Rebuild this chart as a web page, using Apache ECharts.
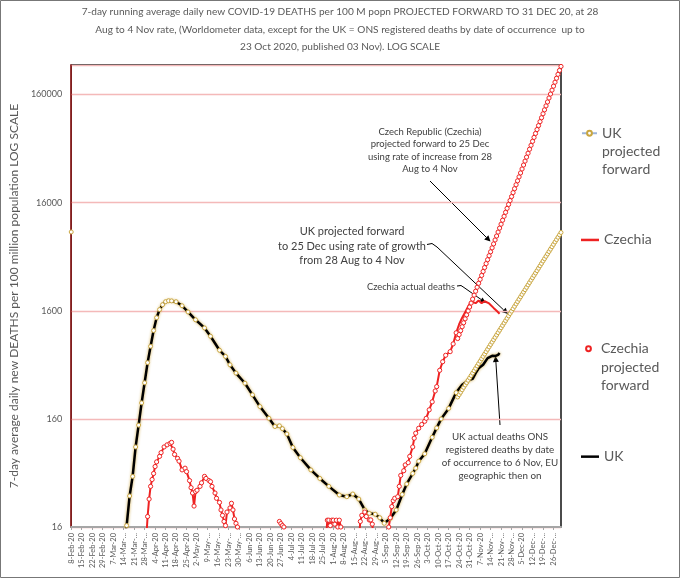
<!DOCTYPE html>
<html>
<head>
<meta charset="utf-8">
<script src="https://cdn.jsdelivr.net/npm/echarts@6/dist/echarts.min.js"></script>
<style>
  html, body { margin: 0; padding: 0; background: #fff; }
  #main { width: 680px; height: 578px; }
</style>
</head>
<body>
<div id="main"></div>
<script>
// y axis unit: grid lines sit at 16 x powers of ten
var UNIT = 16;
var firstDay = Date.UTC(2020, 1, 8);
var lastDay = Date.UTC(2020, 11, 31);

// weekly tick labels, as printed (Excel cut the long ones)
var weekLabels = [
  '8-Feb-20', '15-Feb-20', '22-Feb-20', '29-Feb-20', '7-Mar-20', '14-Mar-...', '21-Mar-...',
  '28-Mar-...', '4-Apr-20', '11-Apr-20', '18-Apr-20', '25-Apr-20', '2-May-20', '9-May-...',
  '16-May-...', '23-May-...', '30-May-...', '6-Jun-20', '13-Jun-20', '20-Jun-20', '27-Jun-20',
  '4-Jul-20', '11-Jul-20', '18-Jul-20', '25-Jul-20', '1-Aug-20', '8-Aug-20', '15-Aug-...',
  '22-Aug-...', '29-Aug-...', '5-Sep-20', '12-Sep-20', '19-Sep-20', '26-Sep-20', '3-Oct-20',
  '10-Oct-20', '17-Oct-20', '24-Oct-20', '31-Oct-20', '7-Nov-20', '14-Nov-...', '21-Nov-...',
  '28-Nov-...', '5-Dec-20', '12-Dec-...', '19-Dec-...', '26-Dec-...'
];

// deaths per 100M, 7-day average
var ukActual = [
  ['2020-03-13', 10], ['2020-03-16', 16.5], ['2020-03-18', 31], ['2020-03-20', 47],
  ['2020-03-22', 88], ['2020-03-24', 140], ['2020-03-26', 225], ['2020-03-28', 345],
  ['2020-03-30', 530], ['2020-04-01', 750], ['2020-04-03', 1050], ['2020-04-05', 1380],
  ['2020-04-07', 1640], ['2020-04-09', 1820], ['2020-04-11', 1940], ['2020-04-13', 1980],
  ['2020-04-15', 1975], ['2020-04-18', 1940], ['2020-04-22', 1780], ['2020-04-26', 1560],
  ['2020-05-01', 1320], ['2020-05-07', 1110], ['2020-05-11', 930], ['2020-05-17', 690],
  ['2020-05-21', 605], ['2020-05-24', 506], ['2020-05-28', 424], ['2020-06-03', 342],
  ['2020-06-08', 267], ['2020-06-13', 208], ['2020-06-19', 162], ['2020-06-23', 136],
  ['2020-06-26', 138], ['2020-06-28', 130], ['2020-07-01', 116], ['2020-07-05', 87],
  ['2020-07-10', 70], ['2020-07-17', 54], ['2020-07-23', 45], ['2020-07-29', 38],
  ['2020-08-05', 31.6], ['2020-08-10', 30.5], ['2020-08-14', 32.3], ['2020-08-18', 29],
  ['2020-08-22', 23], ['2020-08-25', 21.4], ['2020-08-29', 21], ['2020-09-01', 19.5],
  ['2020-09-04', 17.3], ['2020-09-08', 19.2], ['2020-09-12', 23], ['2020-09-16', 32],
  ['2020-09-19', 40], ['2020-09-23', 50], ['2020-09-25', 56], ['2020-09-27', 65],
  ['2020-10-01', 76], ['2020-10-06', 108], ['2020-10-09', 132], ['2020-10-12', 160],
  ['2020-10-17', 200], ['2020-10-22', 280], ['2020-10-26', 330], ['2020-10-28', 345],
  ['2020-10-31', 367], ['2020-11-02', 375], ['2020-11-04', 424], ['2020-11-06', 470],
  ['2020-11-09', 506], ['2020-11-12', 584], ['2020-11-15', 613], ['2020-11-17', 610],
  ['2020-11-19', 626], ['2020-11-20', 650]
];

// '-' = no value (line breaks)
var czechiaActual = [
  ['2020-03-29', 12], ['2020-03-30', 20], ['2020-03-31', 29], ['2020-04-01', 38],
  ['2020-04-02', 44], ['2020-04-03', 50], ['2020-04-04', 58], ['2020-04-05', 64],
  ['2020-04-07', 72], ['2020-04-08', 78], ['2020-04-10', 88], ['2020-04-12', 92],
  ['2020-04-14', 95], ['2020-04-15', 97], ['2020-04-16', 84], ['2020-04-17', 75],
  ['2020-04-19', 69], ['2020-04-20', 65], ['2020-04-22', 54], ['2020-04-24', 56],
  ['2020-04-25', 52], ['2020-04-27', 43], ['2020-04-28', 37], ['2020-04-29', 33],
  ['2020-04-30', 25], ['2020-05-01', 34], ['2020-05-02', 35], ['2020-05-04', 38],
  ['2020-05-05', 41], ['2020-05-07', 47], ['2020-05-08', 45], ['2020-05-10', 43],
  ['2020-05-11', 42], ['2020-05-12', 38], ['2020-05-14', 33], ['2020-05-15', 29.5],
  ['2020-05-17', 27], ['2020-05-18', 23], ['2020-05-19', 20.5], ['2020-05-20', 18],
  ['2020-05-21', 16.5], ['2020-05-22', 22], ['2020-05-24', 24], ['2020-05-25', 26.5],
  ['2020-05-26', 23], ['2020-05-27', 19], ['2020-05-28', 17.3], ['2020-05-29', 16],
  ['2020-05-30', 12], ['2020-05-31', '-'],
  ['2020-06-26', 18], ['2020-06-27', 17.2], ['2020-06-28', 16.5], ['2020-06-29', 16],
  ['2020-06-30', 12], ['2020-07-01', '-'],
  ['2020-07-27', 12], ['2020-07-28', 18.5], ['2020-07-29', 18.5], ['2020-07-30', 16.5],
  ['2020-07-31', 18.5], ['2020-08-01', 18.5], ['2020-08-02', 17], ['2020-08-03', 18.5],
  ['2020-08-04', 16], ['2020-08-05', 18.5], ['2020-08-06', 16], ['2020-08-07', 12],
  ['2020-08-08', '-'],
  ['2020-08-18', 12], ['2020-08-19', 18], ['2020-08-20', 20.5], ['2020-08-22', 22],
  ['2020-08-23', 20], ['2020-08-25', 18.6], ['2020-08-26', 18.6], ['2020-08-27', 17],
  ['2020-08-28', 12], ['2020-08-29', '-'],
  ['2020-09-06', 12], ['2020-09-07', 16], ['2020-09-08', 19.5], ['2020-09-09', 24.7],
  ['2020-09-10', 28], ['2020-09-11', 29.5], ['2020-09-13', 30.5], ['2020-09-14', 38],
  ['2020-09-15', 48], ['2020-09-17', 53], ['2020-09-18', 60], ['2020-09-20', 63],
  ['2020-09-21', 72], ['2020-09-23', 88], ['2020-09-24', 106], ['2020-09-25', 118],
  ['2020-09-27', 131], ['2020-09-29', 142], ['2020-10-01', 152], ['2020-10-02', 162],
  ['2020-10-04', 194], ['2020-10-06', 230], ['2020-10-08', 290], ['2020-10-09', 318],
  ['2020-10-11', 450], ['2020-10-13', 540], ['2020-10-15', 620], ['2020-10-18', 670],
  ['2020-10-20', 790], ['2020-10-22', 1000], ['2020-10-24', 1200], ['2020-10-26', 1380],
  ['2020-10-28', 1550], ['2020-10-30', 1750], ['2020-11-01', 1950], ['2020-11-04', 1880],
  ['2020-11-06', 1990], ['2020-11-08', 1880], ['2020-11-10', 1960], ['2020-11-11', 1950],
  ['2020-11-13', 1870], ['2020-11-16', 1700], ['2020-11-18', 1600], ['2020-11-20', 1500]
];

// daily projected values from 23 Oct to 31 Dec
var projStart = '2020-10-23';
var ukProjected = [
  255, 268, 282, 297, 313, 329, 346, 364, 383, 403, 424, 446, 469, 494, 519, 546, 575, 605,
  636, 669, 704, 741, 780, 820, 863, 908, 955, 1005, 1057, 1112, 1170, 1231, 1295, 1363,
  1434, 1508, 1587, 1669, 1756, 1848, 1944, 2045, 2152, 2264, 2382, 2506, 2636, 2774, 2918,
  3070, 3230, 3398, 3575, 3761, 3957, 4163, 4380, 4608, 4848, 5101, 5366, 5646, 5940, 6249,
  6575, 6917, 7277, 7656, 8055, 8475
];
var czechiaProjected = [
  886, 963, 1047, 1139, 1239, 1348, 1466, 1594, 1734, 1886, 2051, 2231, 2426, 2639, 2870,
  3121, 3395, 3692, 4016, 4367, 4750, 5166, 5619, 6111, 6646, 7228, 7861, 8550, 9299, 10110,
  11000, 11960, 13010, 14150, 15390, 16740, 18200, 19800, 21540, 23420, 25470, 27700, 30130,
  32770, 35640, 38760, 42160, 45850, 49870, 54240, 58990, 64160, 69780, 75890, 82540, 89770,
  97630, 106200, 115500, 125600, 136600, 148600, 161600, 175700, 191100, 207900, 226100,
  245900, 267400, 290900
];
// odd single point the original shows on the y axis
var ukStray = ['2020-02-08', 8570];

var days = [];
for (var t = firstDay; t <= lastDay; t += 86400000) {
  days.push(new Date(t).toISOString().slice(0, 10));
}

function scaled(pairs) {
  return pairs.map(function (p) { return [p[0], p[1] === '-' ? '-' : p[1] / UNIT]; });
}
function fromStart(start, values) {
  var i0 = days.indexOf(start);
  return values.map(function (v, k) { return [days[i0 + k], v / UNIT]; });
}
function before(pairs, day) {
  return pairs.filter(function (p) { return p[0] < day; });
}

var gold = '#c9a640', red = '#ee2222', grey = '#595959';
var font = 'Lato';

var ukProjData = scaled([ukStray, [days[1], '-']])
  .concat(scaled(before(ukActual, projStart)))
  .concat(fromStart(projStart, ukProjected));
var czProjData = scaled(before(czechiaActual, projStart))
  .concat(fromStart(projStart, czechiaProjected));

// multi-line names get two blank lines on top so the first line sits by the icon
function legendBox(name, top, multi) {
  var box = {
    data: [name],
    orient: 'vertical',
    left: 581,
    top: top,
    padding: 0,
    itemWidth: 15,
    itemHeight: 6,
    formatter: multi ? function (n) { return '\n\n' + n.replace(/ /g, '\n'); } : '{name}',
    textStyle: { color: grey, fontSize: 14, fontFamily: font, lineHeight: 18.3 }
  };
  if (!multi) {
    box.icon = 'rect';
    box.itemWidth = 18;
    box.itemHeight = 2.5;
  }
  return box;
}

function arrow(points, head) {
  return [
    { type: 'polyline', shape: { points: points }, style: { stroke: '#000', lineWidth: 1, fill: null } },
    { type: 'polygon', shape: { points: head }, style: { fill: '#000' } }
  ];
}

function note(x, y, text, size, lh, align) {
  return {
    type: 'text', x: x, y: y,
    style: {
      text: text, fill: '#404040', fontSize: size, lineHeight: lh, fontFamily: font,
      align: align || 'center', verticalAlign: 'top'
    }
  };
}

var myChart = echarts.init(document.getElementById('main'));
var option = {
  animation: false,
  title: {
    text: '7-day running average daily new COVID-19 DEATHS per 100 M popn PROJECTED FORWARD TO 31 DEC 20, at 28\n' +
      'Aug to 4 Nov rate, (Worldometer data, except for the UK = ONS registered deaths by date of occurrence  up to\n' +
      '23 Oct 2020, published 03 Nov). LOG SCALE',
    left: 'center',
    top: 3,
    padding: 0,
    textStyle: { color: grey, fontSize: 10.1, fontWeight: 'normal', fontFamily: font, lineHeight: 17.5 }
  },
  legend: [
    legendBox('UK projected forward', 87.5, true),
    legendBox('Czechia', 230.8, false),
    legendBox('Czechia projected forward', 303, true),
    legendBox('UK', 447.5, false)
  ],
  grid: {
    left: 51, right: 119, top: 65, bottom: 51,
    show: true, borderColor: '#111', borderWidth: 1.5
  },
  xAxis: {
    type: 'category',
    data: days,
    boundaryGap: false,
    axisLine: { lineStyle: { color: '#a6a6a6', width: 2 } },
    axisTick: { show: true, interval: 6, length: 3, lineStyle: { color: '#a6a6a6' } },
    axisLabel: {
      interval: 6,
      rotate: 90,
      margin: 6,
      color: grey,
      fontSize: 7.5,
      fontFamily: font,
      formatter: function (val, idx) { return weekLabels[idx / 7]; }
    },
    splitLine: { show: false }
  },
  yAxis: {
    type: 'log',
    logBase: 10,
    min: 1,
    max: 300000 / UNIT,
    name: '7-day average daily new DEATHS per 100 million population LOG SCALE',
    nameLocation: 'middle',
    nameRotate: 90,
    nameGap: 35,
    nameTextStyle: { color: grey, fontSize: 12, fontFamily: font },
    axisLine: { show: true, lineStyle: { color: '#a02020', width: 1.5 } },
    axisTick: { show: false },
    axisLabel: {
      color: grey, fontSize: 9, fontFamily: font, margin: 9, showMaxLabel: false,
      formatter: function (v) { return String(Math.round(v * UNIT)); }
    },
    splitLine: { lineStyle: { color: '#f4b9b9', width: 1.3 } }
  },
  series: [
    {
      name: 'UK projected forward',
      type: 'line',
      data: ukProjData,
      symbol: 'circle',
      symbolSize: 4,
      showAllSymbol: true,
      itemStyle: { color: '#fff', borderColor: gold, borderWidth: 1 },
      lineStyle: { color: '#9db4d8', width: 1 }
    },
    {
      name: 'UK',
      type: 'line',
      data: scaled(ukActual),
      symbol: 'none',
      lineStyle: { color: '#000', width: 2.5, shadowColor: 'rgba(205,165,60,0.95)', shadowBlur: 3 },
      itemStyle: { color: '#000' }
    },
    {
      name: 'Czechia',
      type: 'line',
      data: scaled(czechiaActual),
      symbol: 'none',
      lineStyle: { color: red, width: 2 },
      itemStyle: { color: red }
    },
    {
      name: 'Czechia projected forward',
      type: 'line',
      data: czProjData,
      symbol: 'circle',
      symbolSize: 4.2,
      showAllSymbol: true,
      itemStyle: { color: '#fff', borderColor: red, borderWidth: 1 },
      lineStyle: { width: 0, opacity: 0 }
    }
  ],
  graphic: [
    { type: 'rect', shape: { x: 0.5, y: 0.5, width: 679, height: 577 }, style: { fill: null, stroke: '#777', lineWidth: 1 } },
    note(430, 125.5, 'Czech Republic (Czechia)\nprojected forward to 25 Dec\nusing rate of increase from 28\nAug to 4 Nov', 9.5, 12.4),
    note(352, 224.5, 'UK projected forward\nto 25 Dec using rate of growth\nfrom 28 Aug to 4 Nov', 11, 14.5),
    note(455, 280.5, 'Czechia actual deaths', 9.3, 12, 'right'),
    note(500, 430.2, 'UK actual deaths ONS\nregistered deaths by date\nof occurrence to 6 Nov, EU\ngeographic then on', 9.8, 13)
  ]
    .concat(arrow([[430, 181], [486.3, 237.3]], [[490.5, 241.5], [484.2, 239.4], [488.4, 235.2]]))
    .concat(arrow([[427, 244.5], [432, 243.5], [437, 247], [503.6, 309.9]], [[508, 314], [501.6, 312.1], [505.7, 307.7]]))
    .concat(arrow([[457, 286], [461, 285.5], [464, 287.5], [481.1, 299.5]], [[486, 303], [479.7, 301.5], [482.5, 297.5]]))
    .concat(arrow([[500, 425], [495.9, 362]], [[495.5, 356], [498.9, 361.8], [492.9, 362.2]]))
};
myChart.setOption(option);
</script>
</body>
</html>
